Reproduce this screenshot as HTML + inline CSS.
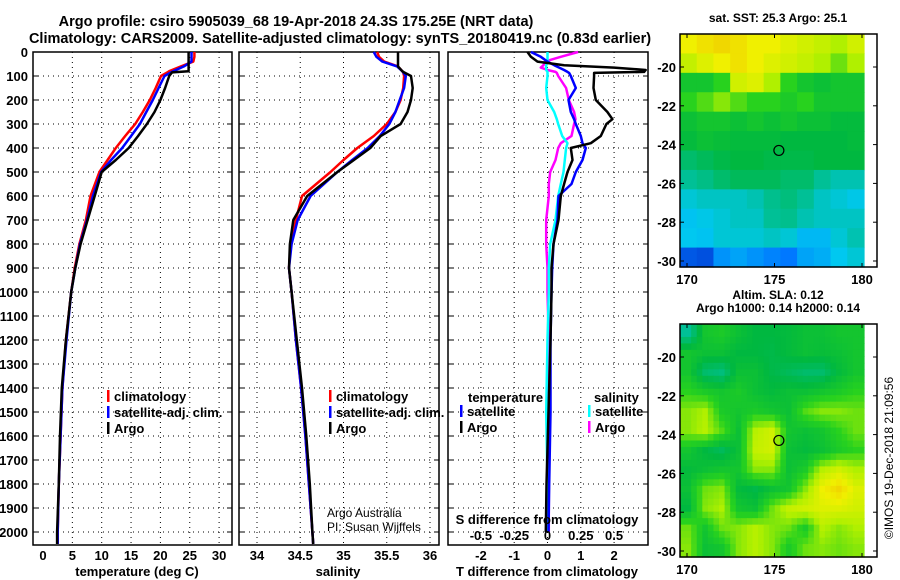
<!DOCTYPE html>
<html><head><meta charset="utf-8"><style>
body{margin:0;background:#fff;}
svg{display:block;font-family:"Liberation Sans",sans-serif;font-weight:bold;}
</style></head><body>
<svg id="c" width="900" height="580" xmlns="http://www.w3.org/2000/svg"></svg>
<script>
// ---- data ----
const depths = [0,20,40,60,80,85,100,150,200,250,300,350,400,450,500,600,700,800,900,1000,1200,1400,1600,1800,2000,2050];
const tempClim = [25.8,25.8,25.6,23.5,21.5,21.2,20.1,19.2,18.2,17.0,15.7,14.0,12.4,11.0,9.6,8.1,7.3,6.2,5.4,4.8,3.9,3.3,3.0,2.7,2.5,2.5];
const tempSat  = [25.3,25.3,25.3,24.0,22.2,21.8,20.7,19.7,18.7,17.6,16.5,15.0,13.5,11.6,9.9,8.5,7.5,6.3,5.5,4.8,4.0,3.3,3.0,2.7,2.5,2.5];
const tempArgo = [24.8,24.8,24.8,24.8,24.8,22.0,21.5,20.8,20.0,19.0,17.7,16.2,14.6,12.4,10.0,8.8,7.6,6.4,5.5,4.8,3.9,3.2,2.9,2.7,2.4,2.4];
const salClim = [35.39,35.41,35.47,35.63,35.68,35.69,35.70,35.69,35.66,35.60,35.50,35.35,35.16,35.00,34.85,34.52,34.45,34.39,34.37,34.40,34.45,34.51,34.56,34.60,34.64,34.65];
const salSat  = [35.35,35.38,35.45,35.62,35.68,35.69,35.72,35.70,35.65,35.60,35.53,35.42,35.28,35.10,34.93,34.62,34.47,34.40,34.37,34.40,34.45,34.51,34.56,34.60,34.64,34.65];
const salArgo = [35.63,35.63,35.63,35.63,35.68,35.70,35.78,35.80,35.78,35.74,35.66,35.43,35.31,35.12,34.93,34.58,34.42,34.38,34.37,34.40,34.46,34.52,34.57,34.61,34.64,34.65];
const diffDepths = [0,20,40,55,65,75,83,87,100,150,200,250,280,300,350,380,400,450,500,550,600,700,800,900,1000,1200,1500,1800,2000];
const dTArgo = [-0.6,-0.5,-0.3,0.5,2.0,2.95,2.9,1.4,1.4,1.38,1.45,1.8,1.95,1.77,1.6,1.3,0.7,0.75,0.6,0.5,0.4,0.33,0.18,0.12,0.12,0.09,0.03,-0.03,-0.05];
const dTSat  = [-0.5,-0.2,0.0,0.2,0.35,0.5,0.6,0.65,0.7,0.85,0.63,0.7,0.8,0.85,1.0,1.05,1.15,1.05,0.85,0.72,0.33,0.3,0.18,0.14,0.12,0.09,0.09,0.05,0.03];
const dSArgo = [0.23,0.1,-0.02,-0.03,-0.05,0.0,0.06,0.07,0.08,0.14,0.16,0.2,0.21,0.2,0.18,0.1,0.08,0.06,0.02,0.01,0.01,-0.01,-0.01,0.0,0.0,0.01,0.01,0.01,0.01];
const dSSat  = [0.0,0.0,0.0,-0.01,-0.01,-0.01,0.0,0.0,0.0,-0.01,0.0,0.05,0.07,0.08,0.11,0.15,0.14,0.13,0.12,0.1,0.08,0.06,0.02,0.01,0.01,0.0,-0.01,0.0,0.0];
const depthTicks = [0,100,200,300,400,500,600,700,800,900,1000,1100,1200,1300,1400,1500,1600,1700,1800,1900,2000];
const tempTicks = [0,5,10,15,20,25,30];
const salTicks = [34,34.5,35,35.5,36];
const salTickLabels = ["34","34.5","35","35.5","36"];
const dTTicks = [-2,-1,0,1,2];
const dSTicks = [-0.5,-0.25,0,0.25,0.5];
const dSTickLabels = ["-0.5","-0.25","0","0.25","0.5"];
const latTicks = [-20,-22,-24,-26,-28,-30];
const lonTicks = [170,175,180];
const sstGrid = [
[0.85,0.88,0.9,0.88,0.85,0.85,0.82,0.8,0.78,0.75,0.8],
[0.78,0.82,0.85,0.88,0.85,0.82,0.8,0.78,0.75,0.7,0.75],
[0.6,0.6,0.65,0.8,0.82,0.75,0.65,0.6,0.58,0.6,0.6],
[0.65,0.68,0.72,0.68,0.65,0.65,0.62,0.65,0.6,0.6,0.6],
[0.58,0.6,0.6,0.58,0.6,0.58,0.6,0.58,0.58,0.56,0.56],
[0.56,0.58,0.57,0.56,0.56,0.56,0.55,0.55,0.55,0.55,0.56],
[0.5,0.52,0.54,0.55,0.55,0.54,0.54,0.54,0.55,0.55,0.55],
[0.45,0.47,0.5,0.52,0.52,0.52,0.5,0.5,0.45,0.42,0.42],
[0.38,0.4,0.4,0.4,0.42,0.46,0.48,0.45,0.4,0.38,0.36],
[0.34,0.36,0.38,0.4,0.4,0.45,0.46,0.42,0.4,0.4,0.4],
[0.35,0.34,0.38,0.38,0.38,0.4,0.38,0.32,0.32,0.38,0.42],
[0.12,0.1,0.25,0.28,0.25,0.22,0.2,0.28,0.3,0.35,0.38]];
const slaGrid = [
[0.45,0.6,0.62,0.58,0.55,0.55,0.56,0.58,0.58,0.6,0.6],
[0.6,0.58,0.58,0.55,0.55,0.54,0.56,0.58,0.57,0.58,0.6],
[0.6,0.5,0.48,0.58,0.58,0.54,0.52,0.5,0.5,0.56,0.6],
[0.65,0.62,0.6,0.62,0.58,0.56,0.58,0.58,0.6,0.62,0.65],
[0.72,0.75,0.62,0.6,0.62,0.6,0.58,0.68,0.72,0.72,0.7],
[0.72,0.76,0.68,0.58,0.76,0.8,0.6,0.58,0.6,0.65,0.7],
[0.6,0.55,0.52,0.58,0.78,0.8,0.58,0.56,0.58,0.62,0.65],
[0.56,0.58,0.6,0.6,0.72,0.72,0.58,0.62,0.76,0.8,0.75],
[0.58,0.7,0.72,0.56,0.54,0.58,0.6,0.72,0.85,0.9,0.82],
[0.55,0.72,0.75,0.6,0.58,0.7,0.78,0.8,0.82,0.82,0.8],
[0.7,0.6,0.7,0.72,0.76,0.72,0.7,0.62,0.76,0.72,0.75],
[0.72,0.58,0.6,0.72,0.76,0.72,0.62,0.7,0.72,0.7,0.72]];
const argoLon = 175.25, argoLat = -24.3;

// ---- helpers ----
const NS="http://www.w3.org/2000/svg", svg=document.getElementById('c');
function mk(tag,attrs,parent){const e=document.createElementNS(NS,tag);for(const k in attrs)e.setAttribute(k,attrs[k]);(parent||svg).appendChild(e);return e;}
function txt(x,y,s,size,anchor,parent){const t=mk('text',{x:x,y:y,'font-size':size,'text-anchor':anchor||'middle'},parent);t.textContent=s;return t;}
const yD = d => 52 + d*0.24;
const xT = v => 43 + v*5.87;
const xS = v => 257 + (v-34)*86.5;
const xDT = v => 547.5 + v*33.3;
const xDS = v => 547.5 + v*133.2;

function panel(name,x0,x1,gridXs,labelLeft){
  const g=mk('g',{});
  
  
  gridXs.forEach(x=>mk('line',{x1:x,x2:x,y1:52,y2:545,stroke:'#000','stroke-width':1,'stroke-dasharray':'1 4'},g));
  depthTicks.forEach(d=>{const y=yD(d);
    mk('line',{x1:x0,x2:x1,y1:y,y2:y,stroke:'#000','stroke-width':1,'stroke-dasharray':'1 4'},g);
    mk('line',{x1:x0,x2:x0+5,y1:y,y2:y,stroke:'#000'},g);
    mk('line',{x1:x1-5,x2:x1,y1:y,y2:y,stroke:'#000'},g);
    if(labelLeft){const t=txt(28,y+5,String(d),13,'end',g);
      }
  });
  mk('rect',{x:x0,y:52,width:x1-x0,height:493,fill:'none',stroke:'#000','stroke-width':1.5},g);
  return g;
}
function line(name,xs,ds,fx,color,w){
  const p=mk('polyline',{points:xs.map((v,i)=>fx(v).toFixed(1)+','+yD(ds[i]).toFixed(1)).join(' '),fill:'none',stroke:color,'stroke-width':w||2.5,'stroke-linejoin':'round'});
  
  
}
function legend(x,y,items){
  items.forEach((it,i)=>{const yy=y+i*16;
    mk('rect',{x:x,y:yy-11,width:2.5,height:12,fill:it[1]});
    const t=txt(x+7,yy,it[0],13,'start');
    
    
  });
}

// titles
let t=txt(296,26,'Argo profile: csiro 5905039_68 19-Apr-2018 24.3S 175.25E (NRT data)',14.5);

t=txt(340,43,'Climatology: CARS2009. Satellite-adjusted climatology: synTS_20180419.nc (0.83d earlier)',14.5);


// panel 1 temperature
panel('temperature-panel',33,232,tempTicks.slice(1).map(xT),true);
line('temp-climatology-line',tempClim,depths,xT,'#f00');
line('temp-satellite-line',tempSat,depths,xT,'#00f');
line('temp-argo-line',tempArgo,depths,xT,'#000');
tempTicks.forEach(v=>{const t=txt(xT(v),560,String(v),13);});
t=txt(137,576,'temperature (deg C)',13);
legend(107,401,[['climatology','#f00'],['satellite-adj. clim.','#00f'],['Argo','#000']]);

// panel 2 salinity
panel('salinity-panel',239,439,salTicks.map(xS),false);
line('sal-climatology-line',salClim,depths,xS,'#f00');
line('sal-satellite-line',salSat,depths,xS,'#00f');
line('sal-argo-line',salArgo,depths,xS,'#000');
salTicks.forEach((v,i)=>{const t=txt(xS(v),560,salTickLabels[i],13);});
t=txt(338,576,'salinity',13);
legend(329,401,[['climatology','#f00'],['satellite-adj. clim.','#00f'],['Argo','#000']]);
t=txt(327,517,'Argo Australia',12,'start');t.setAttribute('font-weight','normal');
t=txt(327,531,'PI: Susan Wijffels',12,'start');t.setAttribute('font-weight','normal');

// panel 3 differences
panel('difference-panel',448,648,dTTicks.map(xDT),false);
line('sal-diff-argo-line',dSArgo,diffDepths,xDS,'#f0f');
line('sal-diff-satellite-line',dSSat,diffDepths,xDS,'#0ff');
line('temp-diff-satellite-line',dTSat,diffDepths,xDT,'#00f');
line('temp-diff-argo-line',dTArgo,diffDepths,xDT,'#000');
dTTicks.forEach(v=>{const t=txt(xDT(v),560,String(v),13);});
dSTicks.forEach((v,i)=>{const t=txt(xDS(v),540,dSTickLabels[i],13);});
t=txt(547,524,'S difference from climatology',13);
t=txt(547,576,'T difference from climatology',13);
t=txt(468,402,'temperature',13,'start');
t=txt(594,402,'salinity',13,'start');
legend(460,416,[['satellite','#00f'],['Argo','#000']]);
legend(588,416,[['satellite','#0ff'],['Argo','#f0f']]);

// maps
const stops=[[0,[0,40,190]],[0.2,[0,120,255]],[0.35,[0,200,240]],[0.45,[0,192,150]],[0.55,[0,184,64]],[0.65,[40,210,30]],[0.75,[176,240,0]],[0.85,[240,240,0]],[0.95,[240,190,0]],[1,[240,150,0]]];
function cmap(v){for(let i=1;i<stops.length;i++){if(v<=stops[i][0]){const a=stops[i-1],b=stops[i],f=(v-a[0])/(b[0]-a[0]);
  return 'rgb('+a[1].map((c,j)=>Math.round(c+(b[1][j]-c)*f)).join(',')+')';}}return 'rgb(240,150,0)';}
function sample(grid,fi,fj){
  const R=grid.length,C=grid[0].length;
  fi=Math.max(0,Math.min(R-1,fi));fj=Math.max(0,Math.min(C-1,fj));
  const i0=Math.floor(fi),j0=Math.floor(fj),i1=Math.min(R-1,i0+1),j1=Math.min(C-1,j0+1),a=fi-i0,b=fj-j0;
  return grid[i0][j0]*(1-a)*(1-b)+grid[i0][j1]*(1-a)*b+grid[i1][j0]*a*(1-b)+grid[i1][j1]*a*b;
}
function map(name,y0,grid,title1,title2,smooth){
  const g=mk('g',{});
  
  
  const x0=680,x1=877,dataR=864,h=233;
  const lonX=l=>687+(l-170)*17.5, latY=l=>y0+33+(-20-l)*19.4;
  const rows=grid.length, cols=grid[0].length;
  const k=smooth?3:1, R=rows*k, C=cols*k, cw=(dataR-x0)/C, ch=h/R;
  for(let i=0;i<R;i++)for(let j=0;j<C;j++){
    const v=smooth?sample(grid,(i+0.5)/k-0.5,(j+0.5)/k-0.5):grid[i][j];
    const c=mk('rect',{x:(x0+j*cw).toFixed(2),y:(y0+i*ch).toFixed(2),width:(cw+0.6).toFixed(2),height:(ch+0.6).toFixed(2),fill:cmap(v)},g);
    
    
  }
  mk('rect',{x:x0,y:y0,width:x1-x0,height:h,fill:'none',stroke:'#000','stroke-width':1.5},g);
  latTicks.forEach(l=>{const y=latY(l);mk('line',{x1:x0,x2:x0+4,y1:y,y2:y,stroke:'#000'},g);mk('line',{x1:x1-4,x2:x1,y1:y,y2:y,stroke:'#000'},g);
    const t=txt(676,y+5,String(l),13,'end',g);});
  lonTicks.forEach(l=>{const x=lonX(l);mk('line',{x1:x,x2:x,y1:y0+h-4,y2:y0+h,stroke:'#000'},g);mk('line',{x1:x,x2:x,y1:y0,y2:y0+4,stroke:'#000'},g);
    const t=txt(x,y0+h+17,String(l),13,'middle',g);});
  const m=mk('circle',{cx:lonX(argoLon),cy:latY(argoLat),r:5,fill:'none',stroke:'#000','stroke-width':1.2},g);
  
  let t=txt(778,y0-12-(title2?13:0),title1,12,'middle',g);
  if(title2){t=txt(778,y0-12,title2,12,'middle',g);}
}
map('sst-map',34,sstGrid,'sat. SST: 25.3 Argo: 25.1',null,false);
map('sla-map',324,slaGrid,'Altim. SLA: 0.12','Argo h1000: 0.14 h2000: 0.14',true);
t=mk('text',{x:0,y:0,'font-size':12,'font-weight':'normal','text-anchor':'middle',transform:'translate(893,458) rotate(-90)'});
t.textContent='©IMOS 19-Dec-2018 21:09:56';


</script>
</body></html>
